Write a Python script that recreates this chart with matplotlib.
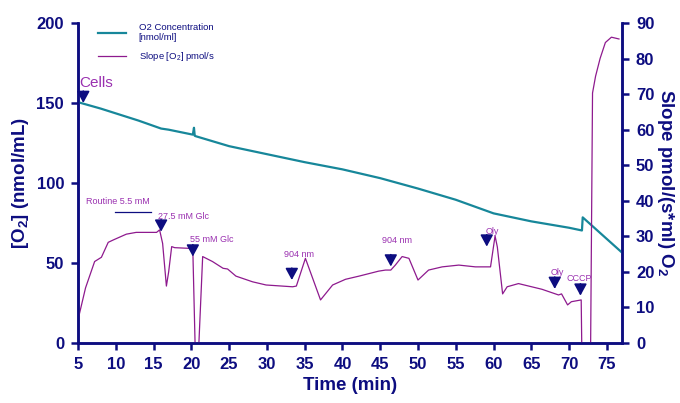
import matplotlib
matplotlib.use("Agg")
import matplotlib.pyplot as plt

plt.rcParams["font.family"] = ["Liberation Sans", "DejaVu Sans"]
plt.rcParams["mathtext.fontset"] = "custom"
plt.rcParams["mathtext.rm"] = "Liberation Sans"
plt.rcParams["mathtext.bf"] = "Liberation Sans:bold"

NAVY = "#0d0d80"
TEAL = "#17879a"
PURPLE = "#8e1a8e"
LABEL = "#9a30b0"

# O2 concentration trace (left axis, nmol/mL)
o2_time = [5, 8, 10, 13, 16, 17, 20.2, 20.35, 20.45, 20.6, 25, 30, 35, 40, 45,
           50, 55, 60, 65, 70, 71.7, 71.8, 77]
o2_conc = [150.5, 146.5, 143.5, 139, 134, 133.3, 130.2, 134.5, 129.5, 129.2, 123,
           118, 113, 108.5, 103, 96.5, 89.5, 81, 76, 72, 70.3, 78.5, 56.5]

# oxygen flux trace (right axis, pmol/(s*ml))
slope_time = [5.0, 6.0, 7.2, 8.1, 9.0, 9.7, 11.4, 12.7, 14.1, 15.4, 15.8, 16.2, 16.7,
              17.0, 17.4, 17.8, 19.8, 20.2, 20.55, 20.9, 21.5, 22.8, 24.2, 24.8,
              25.9, 28.1, 29.9, 33.4, 33.9, 35.1, 37.1, 38.7, 40.4, 42.2, 44.8,
              45.7, 46.4, 47.0, 47.9, 48.8, 50.0, 51.4, 53.2, 55.4, 57.6, 59.6,
              60.2, 60.5, 61.2, 61.8, 63.3, 66.4, 68.6, 69.0, 69.8, 70.3, 71.6,
              71.7, 72.8, 72.85, 73.1, 73.5, 74.1, 74.8, 75.6, 76.6]
slope_val = [6.5, 15.5, 22.9, 24.1, 28.3, 29.0, 30.6, 31.1, 31.1, 31.1, 31.8, 28.0, 16.0,
             20.0, 27.1, 26.8, 26.6, 26.0, -5, -5, 24.3, 22.9, 21.0, 20.8,
             18.8, 17.2, 16.3, 15.8, 16.0, 23.8, 12.1, 16.3, 17.9, 18.8, 20.2,
             20.5, 20.5, 21.9, 24.3, 23.8, 17.7, 20.5, 21.4, 21.9, 21.4, 21.4,
             30.1, 27.0, 13.8, 15.8, 16.7, 15.1, 13.5, 13.8, 10.7, 11.6, 12.1,
             -5, -5, 0, 70.3, 75.0, 80.0, 84.5, 86.0, 85.5]

# event markers: arrow tip (time, slope value) and label text/position
event_time = [5.7, 16.0, 20.2, 33.3, 46.4, 59.1, 68.1, 71.5]
event_val = [67.5, 31.3, 24.3, 17.7, 21.5, 27.1, 15.2, 13.3]
label_text = ["Routine 5.5 mM", "27.5 mM Glc", "55 mM Glc", "904 nm", "904 nm",
              "Oly", "Oly", "CCCP"]
label_time = [10.3, 18.9, 22.7, 34.2, 47.2, 59.8, 68.5, 71.4]
label_val = [39.7, 35.7, 29.0, 25.0, 28.8, 31.3, 19.9, 18.0]

fig = plt.figure(figsize=(6.8, 4.03), dpi=100)
ax = fig.add_axes([0.1147, 0.149, 0.8, 0.794])
ax2 = ax.twinx()

l1, = ax.plot(o2_time, o2_conc, color=TEAL, lw=1.6, zorder=3)
l2, = ax2.plot(slope_time, slope_val, color=PURPLE, lw=0.9)

ax.set_xlim(5, 77)
ax.set_ylim(0, 200)
ax2.set_ylim(0, 90)
ax.set_xticks(range(5, 80, 5))
ax.set_yticks(range(0, 201, 50))
ax2.set_yticks(range(0, 91, 10))

for a in (ax, ax2):
    a.spines["top"].set_visible(False)
    for s in ("left", "right", "bottom"):
        a.spines[s].set_color(NAVY)
        a.spines[s].set_linewidth(1.8)
    a.tick_params(colors=NAVY, width=1.8, length=5, labelsize=12, pad=5)
    for t in a.get_xticklabels() + a.get_yticklabels():
        t.set_fontweight("bold")

ax.set_xlabel("Time (min)", color=NAVY, fontsize=13.5, fontweight="bold", labelpad=4)
ax.set_ylabel(r"$\mathbf{[O_2]}$ (nmol/mL)", color=NAVY, fontsize=13.5,
              fontweight="bold", labelpad=4)
ax2.set_ylabel(r"Slope pmol/(s*ml) $\mathbf{O_2}$", color=NAVY, fontsize=13.5,
               fontweight="bold", rotation=270, labelpad=16)

for t, v in zip(event_time, event_val):
    ax2.annotate("", xy=(t, v), xytext=(0, 8.5), textcoords="offset points",
                 arrowprops=dict(arrowstyle="-|>,head_width=0.38,head_length=0.7",
                                 color=NAVY, lw=1.2, shrinkA=0, shrinkB=0))

for txt, t, v in zip(label_text, label_time, label_val):
    ax2.text(t, v, txt, color=LABEL, fontsize=6.5, ha="center", va="center")

ax2.text(5.2, 73.1, "Cells", color=LABEL, fontsize=11, ha="left", va="center")
ax2.plot([9.9, 14.7], [36.8, 36.8], color=NAVY, lw=0.9)

ax2.legend([l1, l2], ["O2 Concentration\n[nmol/ml]", r"Slope [O$_2$] pmol/s"],
           loc="upper left", bbox_to_anchor=(0.037, 1.0), frameon=False,
           borderpad=0, borderaxespad=0,
           fontsize=6.8, handlelength=2.9, handletextpad=1.4, labelspacing=0.8,
           labelcolor=NAVY)

fig.savefig("out.png", dpi=100)
